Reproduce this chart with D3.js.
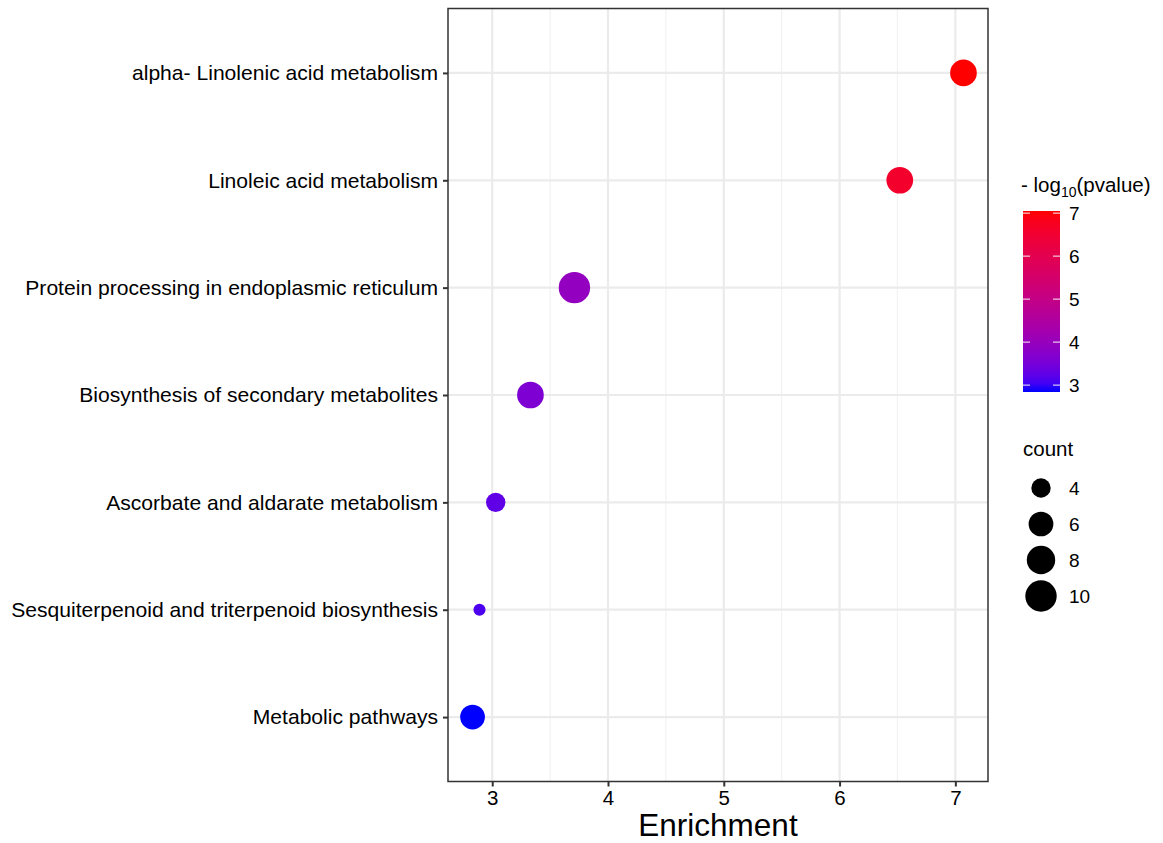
<!DOCTYPE html>
<html lang="en">
<head>
  <meta charset="UTF-8">
  <title>Enrichment dot plot</title>
  <script src="https://cdn.jsdelivr.net/npm/d3@7"></script>
  <style>
    body { margin: 0; background: #fff; font-family: "Liberation Sans", Arial, sans-serif; }
    svg text { fill: #000; }
  </style>
</head>
<body>
  <svg id="chart" width="1163" height="843"></svg>

  <script>
    // values
    const pathways = [
      "alpha- Linolenic acid metabolism",
      "Linoleic acid metabolism",
      "Protein processing in endoplasmic reticulum",
      "Biosynthesis of secondary metabolites",
      "Ascorbate and aldarate metabolism",
      "Sesquiterpenoid and triterpenoid biosynthesis",
      "Metabolic pathways"
    ];
    const enrichment = [7.07, 6.52, 3.71, 3.33, 3.03, 2.89, 2.83];
    const negLogP    = [7.05, 6.6, 3.95, 3.6, 3.25, 3.1, 2.84];
    const counts     = [7, 7, 10, 7, 4, 3, 6];

    const xTicks     = [3, 4, 5, 6, 7];
    const colorTicks = [3, 4, 5, 6, 7];
    const sizeBreaks = [4, 6, 8, 10];

    const rows = pathways.map((p, i) => ({
      name: p, x: enrichment[i], p: negLogP[i], n: counts[i]
    }));

    const svg = d3.select("#chart");
    const panel = { left: 448, right: 988, top: 8.5, bottom: 781.5 };

    // continuous x with ggplot-style 5% expansion
    const [xMin, xMax] = d3.extent(enrichment);
    const pad = (xMax - xMin) * 0.05;
    const x = d3.scaleLinear()
      .domain([xMin - pad, xMax + pad])
      .range([panel.left, panel.right]);

    const y = d3.scalePoint()
      .domain(pathways)
      .range([panel.top, panel.bottom])
      .padding(0.6);

    const color = d3.scaleLinear()
      .domain(d3.extent(negLogP))
      .range(["blue", "red"])
      .interpolate(d3.interpolateLab);

    // area-style size scale like scale_size()
    const [nMin, nMax] = d3.extent(counts);
    const nRescale = d3.scaleLinear().domain([nMin, nMax]).range([0, 1]);
    const rArea = d3.scaleSqrt().domain([0, 1]).range([6.05, 15.7]);
    const radius = n => rArea(nRescale(n));

    // grid
    const grid = svg.append("g");
    const minor = d3.range(Math.ceil(x.domain()[0] * 2) / 2, x.domain()[1], 0.5)
      .filter(v => !xTicks.includes(v));
    grid.selectAll(".minor").data(minor).join("line")
      .attr("x1", d => x(d)).attr("x2", d => x(d))
      .attr("y1", panel.top).attr("y2", panel.bottom)
      .attr("stroke", "#f2f2f2").attr("stroke-width", 1.2);
    grid.selectAll(".vmaj").data(xTicks).join("line")
      .attr("x1", d => x(d)).attr("x2", d => x(d))
      .attr("y1", panel.top).attr("y2", panel.bottom)
      .attr("stroke", "#ebebeb").attr("stroke-width", 2.2);
    grid.selectAll(".hmaj").data(pathways).join("line")
      .attr("x1", panel.left).attr("x2", panel.right)
      .attr("y1", d => y(d)).attr("y2", d => y(d))
      .attr("stroke", "#ebebeb").attr("stroke-width", 2.2);

    // points
    svg.append("g").selectAll("circle").data(rows).join("circle")
      .attr("cx", d => x(d.x))
      .attr("cy", d => y(d.name))
      .attr("r", d => radius(d.n))
      .attr("fill", d => color(d.p));

    // panel border
    svg.append("rect")
      .attr("x", panel.left).attr("y", panel.top)
      .attr("width", panel.right - panel.left)
      .attr("height", panel.bottom - panel.top)
      .attr("fill", "none").attr("stroke", "#333").attr("stroke-width", 1.5);

    // axes
    const yAxis = svg.append("g")
      .attr("transform", `translate(${panel.left},0)`)
      .call(d3.axisLeft(y).tickSize(5).tickPadding(5));
    const xAxis = svg.append("g")
      .attr("transform", `translate(0,${panel.bottom})`)
      .call(d3.axisBottom(x).tickValues(xTicks).tickFormat(d3.format("d"))
        .tickSize(5).tickPadding(4));

    [yAxis, xAxis].forEach(a => {
      a.select(".domain").remove();
      a.selectAll(".tick line").attr("stroke", "#333").attr("stroke-width", 2);
      a.selectAll(".tick text")
        .attr("font-family", "Liberation Sans, Arial, sans-serif")
        .attr("font-size", 20.5).attr("fill", "#000");
    });
    yAxis.selectAll(".tick text").attr("font-size", 21.1);

    svg.append("text")
      .attr("x", (panel.left + panel.right) / 2)
      .attr("y", 836)
      .attr("text-anchor", "middle")
      .attr("font-size", 31.5)
      .text("Enrichment");

    // colour legend
    const bar = { x: 1023, y: 211, w: 37, h: 181 };
    const cb = d3.scaleLinear().domain(color.domain()).range([bar.y + bar.h, bar.y]);

    const title = svg.append("text").attr("x", 1021).attr("y", 192).attr("font-size", 20.5);
    title.append("tspan").text("- log");
    title.append("tspan").attr("font-size", 14).attr("dy", 5).text("10");
    title.append("tspan").attr("dy", -5).text("(pvalue)");

    const grad = svg.append("defs").append("linearGradient")
      .attr("id", "cgrad").attr("x1", 0).attr("x2", 0).attr("y1", 1).attr("y2", 0);
    grad.selectAll("stop").data(d3.range(0, 1.001, 0.05)).join("stop")
      .attr("offset", d => d)
      .attr("stop-color", d => color(color.domain()[0] + d * (color.domain()[1] - color.domain()[0])));

    svg.append("rect")
      .attr("x", bar.x).attr("y", bar.y).attr("width", bar.w).attr("height", bar.h)
      .attr("fill", "url(#cgrad)");

    const ct = svg.append("g").selectAll("g").data(colorTicks).join("g")
      .attr("transform", d => `translate(0,${cb(d)})`);
    ct.append("line").attr("x1", bar.x).attr("x2", bar.x + 7)
      .attr("stroke", "#fff").attr("stroke-width", 1.2).attr("opacity", 0.8);
    ct.append("line").attr("x1", bar.x + bar.w - 7).attr("x2", bar.x + bar.w)
      .attr("stroke", "#fff").attr("stroke-width", 1.2).attr("opacity", 0.8);
    ct.append("text").attr("x", 1069).attr("dy", "0.36em")
      .attr("font-size", 19).text(d => d);

    // size legend
    svg.append("text").attr("x", 1023).attr("y", 456).attr("font-size", 20.5).text("count");
    const sk = svg.append("g").selectAll("g").data(sizeBreaks).join("g")
      .attr("transform", (d, i) => `translate(1041,${488 + i * 36})`);
    sk.append("circle").attr("r", d => radius(d)).attr("fill", "#000");
    sk.append("text").attr("x", 28).attr("dy", "0.36em").attr("font-size", 19).text(d => d);
  </script>
</body>
</html>
